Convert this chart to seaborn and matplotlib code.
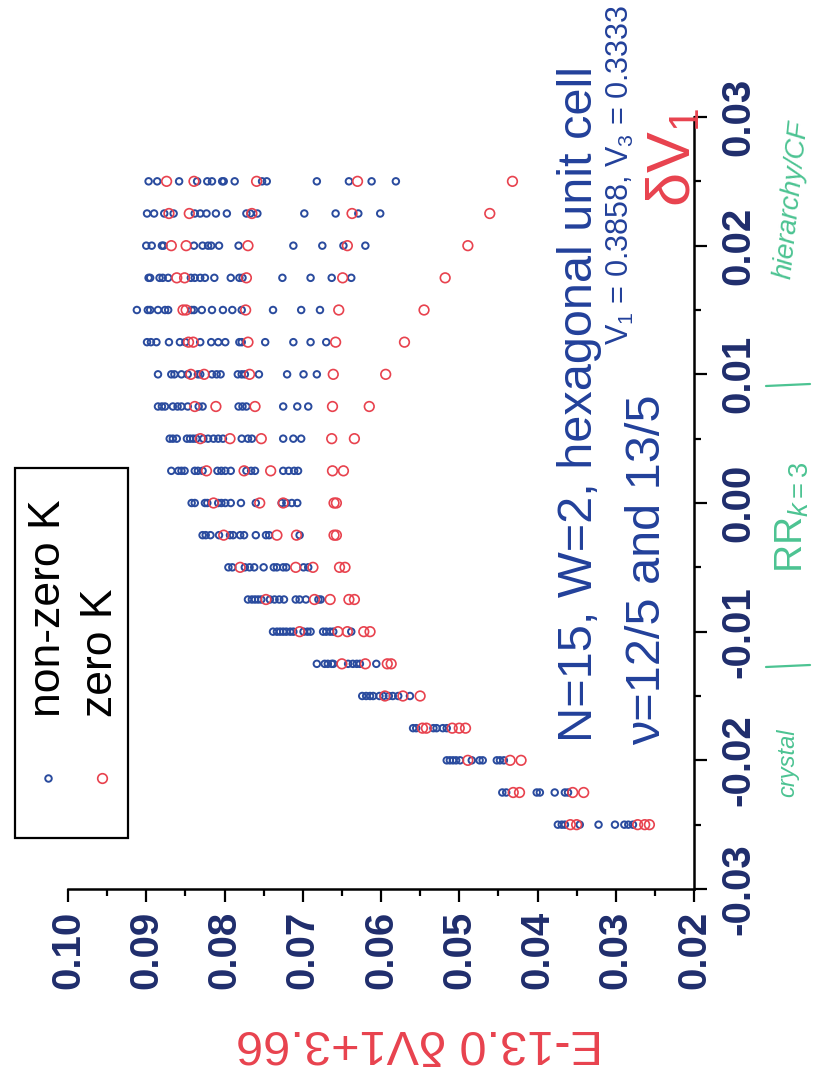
import numpy as np
import pandas as pd
import matplotlib
matplotlib.use("Agg")
import matplotlib.pyplot as plt
import seaborn as sns
from matplotlib.lines import Line2D
from matplotlib.patches import Rectangle
from matplotlib.ticker import MultipleLocator, FuncFormatter
from matplotlib import font_manager

# ---------------- data ----------------
dV1 = [0.025, 0.0225, 0.02, 0.0175, 0.015, 0.0125, 0.01, 0.0075, 0.005, 0.0025, 0.0,
       -0.0025, -0.005, -0.0075, -0.01, -0.0125, -0.015, -0.0175, -0.02, -0.0225, -0.025]

E_nonzero_K = [
    [0.0897, 0.0886, 0.0858, 0.0835, 0.0822, 0.0816, 0.0803, 0.0801, 0.0787, 0.0752, 0.0746, 0.0682, 0.0641, 0.0612, 0.0581],
    [0.0899, 0.0890, 0.0877, 0.0865, 0.0838, 0.0831, 0.0823, 0.0811, 0.0797, 0.0772, 0.0767, 0.0758, 0.0698, 0.0658, 0.0629, 0.0601],
    [0.0900, 0.0893, 0.0880, 0.0878, 0.0839, 0.0828, 0.0821, 0.0817, 0.0807, 0.0782, 0.0712, 0.0675, 0.0648, 0.0620],
    [0.0897, 0.0895, 0.0883, 0.0879, 0.0872, 0.0843, 0.0838, 0.0831, 0.0825, 0.0813, 0.0792, 0.0781, 0.0777, 0.0726, 0.0690, 0.0663, 0.0638],
    [0.0912, 0.0898, 0.0895, 0.0885, 0.0876, 0.0872, 0.0842, 0.0839, 0.0829, 0.0816, 0.0802, 0.0790, 0.0778, 0.0738, 0.0702, 0.0678],
    [0.0899, 0.0894, 0.0887, 0.0871, 0.0857, 0.0850, 0.0831, 0.0817, 0.0808, 0.0799, 0.0781, 0.0778, 0.0748, 0.0712, 0.0690, 0.0670],
    [0.0885, 0.0868, 0.0864, 0.0855, 0.0847, 0.0834, 0.0831, 0.0816, 0.0810, 0.0805, 0.0783, 0.0778, 0.0774, 0.0756, 0.0720, 0.0699, 0.0682],
    [0.0885, 0.0880, 0.0876, 0.0866, 0.0860, 0.0855, 0.0847, 0.0833, 0.0828, 0.0782, 0.0777, 0.0772, 0.0725, 0.0707, 0.0693],
    [0.0870, 0.0866, 0.0861, 0.0848, 0.0844, 0.0840, 0.0836, 0.0827, 0.0821, 0.0814, 0.0808, 0.0802, 0.0778, 0.0770, 0.0765, 0.0725, 0.0712, 0.0702],
    [0.0868, 0.0859, 0.0855, 0.0851, 0.0838, 0.0834, 0.0828, 0.0809, 0.0804, 0.0799, 0.0792, 0.0772, 0.0766, 0.0761, 0.0725, 0.0718, 0.0711, 0.0706],
    [0.0842, 0.0838, 0.0825, 0.0822, 0.0808, 0.0804, 0.0799, 0.0792, 0.0779, 0.0760, 0.0727, 0.0721, 0.0714, 0.0707],
    [0.0828, 0.0824, 0.0818, 0.0807, 0.0793, 0.0789, 0.0780, 0.0775, 0.0760, 0.0747, 0.0743, 0.0704],
    [0.0795, 0.0790, 0.0774, 0.0768, 0.0762, 0.0750, 0.0737, 0.0733, 0.0725, 0.0721, 0.0699, 0.0693],
    [0.0770, 0.0765, 0.0761, 0.0757, 0.0753, 0.0742, 0.0736, 0.0730, 0.0724, 0.0709, 0.0704, 0.0696, 0.0680, 0.0677],
    [0.0738, 0.0733, 0.0729, 0.0725, 0.0721, 0.0716, 0.0712, 0.0699, 0.0694, 0.0690, 0.0674, 0.0670, 0.0665, 0.0661, 0.0638],
    [0.0682, 0.0672, 0.0668, 0.0663, 0.0661, 0.0642, 0.0636, 0.0631, 0.0627, 0.0606],
    [0.0624, 0.0619, 0.0614, 0.0610, 0.0602, 0.0597, 0.0590, 0.0585, 0.0578, 0.0563],
    [0.0559, 0.0555, 0.0533, 0.0529, 0.0521, 0.0516],
    [0.0516, 0.0512, 0.0508, 0.0504, 0.0499, 0.0484, 0.0474, 0.0470, 0.0452, 0.0448, 0.0443],
    [0.0445, 0.0440, 0.0401, 0.0397, 0.0378, 0.0365, 0.0361],
    [0.0374, 0.0369, 0.0365, 0.0346, 0.0322, 0.0301, 0.0289, 0.0284, 0.0278],
]

E_zero_K = [
    [0.0874, 0.0839, 0.0759, 0.0630, 0.0432],
    [0.0871, 0.0845, 0.0765, 0.0637, 0.0461],
    [0.0868, 0.0849, 0.0770, 0.0643, 0.0489],
    [0.0861, 0.0851, 0.0772, 0.0649, 0.0518],
    [0.0853, 0.0849, 0.0773, 0.0654, 0.0545],
    [0.0846, 0.0840, 0.0770, 0.0658, 0.0570],
    [0.0843, 0.0826, 0.0768, 0.0661, 0.0594],
    [0.0838, 0.0811, 0.0761, 0.0662, 0.0615],
    [0.0831, 0.0793, 0.0753, 0.0663, 0.0634],
    [0.0823, 0.0775, 0.0741, 0.0662, 0.0648],
    [0.0814, 0.0755, 0.0725, 0.0660, 0.0657],
    [0.0801, 0.0733, 0.0708, 0.0660, 0.0657],
    [0.0780, 0.0709, 0.0687, 0.0653, 0.0646],
    [0.0747, 0.0685, 0.0665, 0.0641, 0.0634],
    [0.0704, 0.0655, 0.0643, 0.0622, 0.0614],
    [0.0650, 0.0620, 0.0592, 0.0587],
    [0.0595, 0.0572, 0.0550],
    [0.0547, 0.0542, 0.0509, 0.0500, 0.0492],
    [0.0489, 0.0435, 0.0421],
    [0.0431, 0.0423, 0.0355, 0.0341],
    [0.0358, 0.0350, 0.0272, 0.0263, 0.0257],
]

series_labels = ["non-zero K", "zero K"]
x_ticks = [-0.03, -0.02, -0.01, 0.00, 0.01, 0.02, 0.03]
e_ticks = [0.10, 0.09, 0.08, 0.07, 0.06, 0.05, 0.04, 0.03, 0.02]

# ---------------- style ----------------
sns.set_style("white")
names = {f.name for f in font_manager.fontManager.ttflist}
BASE = "Liberation Sans" if "Liberation Sans" in names else "DejaVu Sans"
NARROW = "Liberation Sans Narrow" if "Liberation Sans Narrow" in names else BASE
plt.rcParams["font.family"] = [BASE, "DejaVu Sans"]
plt.rcParams["axes.unicode_minus"] = False
plt.rcParams["mathtext.fontset"] = "custom"
plt.rcParams["mathtext.rm"] = BASE
plt.rcParams["mathtext.it"] = BASE + ":italic"
plt.rcParams["mathtext.bf"] = BASE + ":bold"

BLUE = "#2a4b9e"
RED = "#e8424e"
NAVY = "#1f2d6c"
TEXT_BLUE = "#22409a"
GREEN = "#4cc392"

W, H = 836, 1070
fig = plt.figure(figsize=(W / 100, H / 100), dpi=100)
fig.patch.set_facecolor("white")


def fx(px):
    return px / W


def fy(py):
    return 1 - py / H


ax = fig.add_axes([fx(68), fy(889), 626 / W, 772 / H])
ax.set_facecolor("white")

# long tables built from the arrays
nz_rows = [(e, d) for d, row in zip(dV1, E_nonzero_K) for e in row]
z_rows = [(e, d) for d, row in zip(dV1, E_zero_K) for e in row]
df_nz = pd.DataFrame(nz_rows, columns=["E", "dV1"])
df_z = pd.DataFrame(z_rows, columns=["E", "dV1"])

sns.scatterplot(data=df_nz, x="E", y="dV1", ax=ax, marker="o", s=22,
                color=BLUE, facecolor="none", edgecolor=BLUE, linewidth=1.4,
                legend=False, zorder=3, clip_on=False)
sns.scatterplot(data=df_z, x="E", y="dV1", ax=ax, marker="o", s=48,
                color=RED, facecolor="none", edgecolor=RED, linewidth=1.2,
                legend=False, zorder=4, clip_on=False)

ax.set_xlim(0.10, 0.02)
ax.set_ylim(-0.03, 0.03)
ax.set_xticks(e_ticks)
ax.set_yticks(x_ticks)
ax.xaxis.set_minor_locator(MultipleLocator(0.005))
ax.yaxis.set_minor_locator(MultipleLocator(0.005))
fmt = FuncFormatter(lambda v, p: f"{v:.2f}".replace("-0.00", "0.00"))
ax.xaxis.set_major_formatter(fmt)
ax.yaxis.set_major_formatter(fmt)
ax.yaxis.tick_right()

for s in ["top", "left"]:
    ax.spines[s].set_visible(False)
for s in ["bottom", "right"]:
    ax.spines[s].set_visible(True)
    ax.spines[s].set_color("black")
    ax.spines[s].set_linewidth(1.8)

ax.tick_params(axis="both", which="major", direction="out", length=9.5, width=1.6,
               color="black", labelsize=29, labelcolor=NAVY)
ax.tick_params(axis="both", which="minor", direction="out", length=5, width=1.6,
               color="black")
ax.tick_params(axis="x", which="both", bottom=True, top=False, labelrotation=90, pad=6)
ax.tick_params(axis="y", which="both", right=True, left=False, labelright=True,
               labelleft=False, labelrotation=90, pad=9)
for lbl in ax.get_xticklabels():
    lbl.set_fontweight("bold")
for lbl in ax.get_yticklabels():
    lbl.set_fontweight("bold")
    lbl.set_va("center")

ax.set_ylabel("")
lab_size = 42 if NARROW != BASE else 35
ax.set_xlabel("E-13.0 δV1+3.66", color=RED, fontsize=lab_size, rotation=180,
              family=[NARROW, "DejaVu Sans"])
ax.xaxis.set_label_coords((420 - 68) / 626, (889 - 1043) / 772)
ax.xaxis.label.set_va("center")

# ---------------- annotations ----------------
fig.text(fx(620), fy(175), "V$_1$ = 0.3858, V$_3$ = 0.3333", rotation=90,
         ha="center", va="center", color=TEXT_BLUE, fontsize=22)
fig.text(fx(580), fy(742), "N=15, W=2, hexagonal unit cell", rotation=90,
         ha="center", va="bottom", color=TEXT_BLUE, fontsize=35)
fig.text(fx(648), fy(745), "ν=12/5 and 13/5", rotation=90,
         ha="center", va="bottom", color=TEXT_BLUE, fontsize=35)
fig.text(fx(675), fy(207), "δV$_1$", rotation=90, ha="center", va="bottom",
         color=RED, fontsize=44)

# handwritten-style notes
fig.text(fx(788), fy(763), "crystal", rotation=90, ha="center", va="center",
         color=GREEN, fontsize=17, fontstyle="italic")
fig.text(fx(792), fy(517), "RR$_{k=3}$", rotation=90, ha="center", va="center",
         color=GREEN, fontsize=28)
fig.text(fx(792), fy(200), "hierarchy/CF", rotation=84, ha="center", va="center",
         color=GREEN, fontsize=20, fontstyle="italic")
for ysep in (667, 386):
    fig.add_artist(Line2D([fx(766), fx(810)], [fy(ysep), fy(ysep - 2)],
                          color=GREEN, lw=1.6))

# ---------------- legend (rotated, drawn by hand) ----------------
fig.add_artist(Rectangle((fx(15), fy(838)), (128 - 15) / W, (838 - 468) / H,
                         transform=fig.transFigure, fill=False, edgecolor="black", lw=1.6))
fig.text(fx(49), fy(717), series_labels[0], rotation=90, ha="center", va="bottom",
         color="black", fontsize=32)
fig.text(fx(101), fy(717), series_labels[1], rotation=90, ha="center", va="bottom",
         color="black", fontsize=32)
fig.add_artist(Line2D([fx(48)], [fy(778)], marker="o", markersize=4.7, linestyle="none",
                      markerfacecolor="none", markeredgecolor=BLUE, markeredgewidth=1.4))
fig.add_artist(Line2D([fx(102)], [fy(778)], marker="o", markersize=6.9, linestyle="none",
                      markerfacecolor="none", markeredgecolor=RED, markeredgewidth=1.2))

fig.savefig("out.png", dpi=100, facecolor="white")
